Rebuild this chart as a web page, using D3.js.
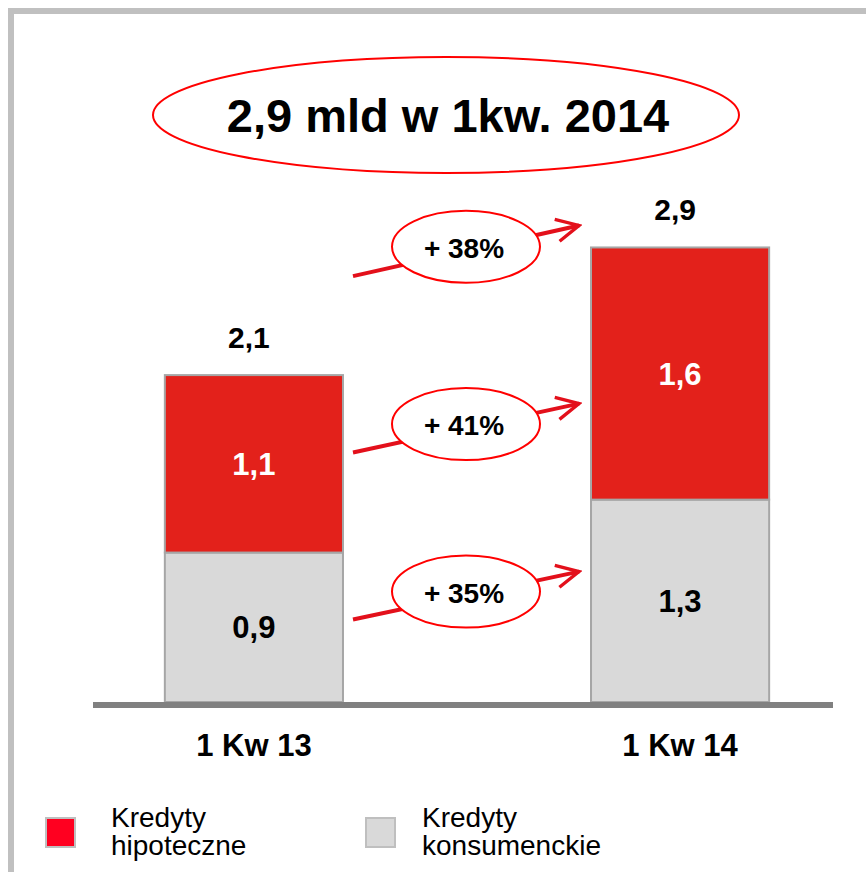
<!DOCTYPE html>
<html>
<head>
<meta charset="utf-8">
<script src="https://cdn.jsdelivr.net/npm/d3@7"></script>
<style>
  body { margin: 0; background: #fff; }
  svg { display: block; font-family: "Liberation Sans", Arial, sans-serif; }
</style>
</head>
<body>
<script>

// data
var categories = ["1 Kw 13", "1 Kw 14"];
var konsumenckie = [0.96, 1.30];
var hipoteczne = [1.14, 1.62];
var konsumLabels = ["0,9", "1,3"];
var hipoLabels = ["1,1", "1,6"];
var totalLabels = ["2,1", "2,9"];
var growth = ["+ 35%", "+ 41%", "+ 38%"];
var seriesNames = [["Kredyty", "hipoteczne"], ["Kredyty", "konsumenckie"]];
var title = "2,9 mld w 1kw. 2014";

var width = 866, height = 872,
    barRed = "#e3211b",
    barGray = "#d9d9d9",
    arrowRed = "#e3101b";

var svg = d3.select("body").append("svg")
  .attr("width", width)
  .attr("height", height);

// frame
svg.append("rect")
  .attr("x", 11).attr("y", 11)
  .attr("width", 900).attr("height", 900)
  .style("fill", "none")
  .style("stroke", "#c0c0c0")
  .style("stroke-width", 6);

// title in ellipse
svg.append("ellipse")
  .attr("cx", 446).attr("cy", 115)
  .attr("rx", 293).attr("ry", 58)
  .style("fill", "none")
  .style("stroke", "#ff0000")
  .style("stroke-width", 2);

svg.append("text")
  .attr("x", 448).attr("y", 132)
  .attr("text-anchor", "middle")
  .style("font-size", "47px")
  .style("font-weight", "bold")
  .text(title);

// scales
var x = d3.scaleBand()
  .domain(categories)
  .range([37, 897])
  .paddingInner(0.582)
  .paddingOuter(0.3);

var y = d3.scaleLinear()
  .domain([0, 3])
  .range([702, 235]);

var stacks = categories.map(function (c, i) {
  return {
    cat: c,
    k: konsumenckie[i],
    h: hipoteczne[i],
    kl: konsumLabels[i],
    hl: hipoLabels[i],
    tl: totalLabels[i]
  };
});

var g = svg.selectAll(".bar")
  .data(stacks)
  .enter()
  .append("g")
  .attr("class", "bar");

g.append("rect")
  .attr("x", function (d) { return x(d.cat); })
  .attr("y", function (d) { return y(d.k); })
  .attr("width", x.bandwidth())
  .attr("height", function (d) { return y(0) - y(d.k); })
  .style("fill", barGray)
  .style("stroke", "#a6a6a6")
  .style("stroke-width", 2);

g.append("rect")
  .attr("x", function (d) { return x(d.cat); })
  .attr("y", function (d) { return y(d.k + d.h); })
  .attr("width", x.bandwidth())
  .attr("height", function (d) { return y(d.k) - y(d.k + d.h); })
  .style("fill", barRed)
  .style("stroke", "#a6a6a6")
  .style("stroke-width", 2);

g.append("text")
  .attr("x", function (d) { return x(d.cat) + x.bandwidth() / 2; })
  .attr("y", function (d) { return (y(0) + y(d.k)) / 2 + 11; })
  .attr("text-anchor", "middle")
  .style("font-size", "31px")
  .style("font-weight", "bold")
  .style("fill", "#000")
  .text(function (d) { return d.kl; });

g.append("text")
  .attr("x", function (d) { return x(d.cat) + x.bandwidth() / 2; })
  .attr("y", function (d) { return (y(d.k) + y(d.k + d.h)) / 2 + 11; })
  .attr("text-anchor", "middle")
  .style("font-size", "31px")
  .style("font-weight", "bold")
  .style("fill", "#fff")
  .text(function (d) { return d.hl; });

g.append("text")
  .attr("x", function (d) { return x(d.cat) + x.bandwidth() / 2 - 5; })
  .attr("y", function (d) { return y(d.k + d.h) - 27; })
  .attr("text-anchor", "middle")
  .style("font-size", "30px")
  .style("font-weight", "bold")
  .text(function (d) { return d.tl; });

// axis line
svg.append("line")
  .attr("x1", 93).attr("x2", 833)
  .attr("y1", 705).attr("y2", 705)
  .style("stroke", "#808080")
  .style("stroke-width", 6);

svg.selectAll(".cat")
  .data(categories)
  .enter()
  .append("text")
  .attr("class", "cat")
  .attr("x", function (d) { return x(d) + x.bandwidth() / 2; })
  .attr("y", 756)
  .attr("text-anchor", "middle")
  .style("font-size", "31px")
  .style("font-weight", "bold")
  .text(function (d) { return d; });

// growth arrows (one per segment level)
var x0 = x(categories[0]) + x.bandwidth(),
    x1 = x(categories[1]);
var levels = [
  { from: y(konsumenckie[0]) + 67, to: y(konsumenckie[1]) + 72 },
  { from: y(konsumenckie[0]) - 100, to: y(konsumenckie[1]) - 96 },
  { from: y(konsumenckie[0] + hipoteczne[0]) - 99, to: y(konsumenckie[1] + hipoteczne[1]) - 22 }
];

var defs = svg.append("defs");
defs.append("marker")
  .attr("id", "head")
  .attr("viewBox", "0 0 10 10")
  .attr("refX", 9).attr("refY", 5)
  .attr("markerWidth", 7).attr("markerHeight", 7)
  .attr("markerUnits", "strokeWidth")
  .attr("orient", "auto")
  .append("path")
  .attr("d", "M1,1 L9,5 L1,9")
  .style("fill", "none")
  .style("stroke", arrowRed)
  .style("stroke-width", 1.2);

var arr = svg.selectAll(".growth")
  .data(growth)
  .enter()
  .append("g")
  .attr("class", "growth");

arr.append("line")
  .attr("x1", x0 + 10)
  .attr("y1", function (d, i) { return levels[i].from; })
  .attr("x2", x1 - 12)
  .attr("y2", function (d, i) { return levels[i].to; })
  .style("stroke", arrowRed)
  .style("stroke-width", 4)
  .attr("marker-end", "url(#head)");

arr.append("ellipse")
  .attr("cx", 466)
  .attr("cy", function (d, i) { return (levels[i].from + levels[i].to) / 2 - 4; })
  .attr("rx", 74)
  .attr("ry", 36)
  .style("fill", "#fff")
  .style("stroke", "#ff0000")
  .style("stroke-width", 2);

arr.append("text")
  .attr("x", 464)
  .attr("y", function (d, i) { return (levels[i].from + levels[i].to) / 2 + 7; })
  .attr("text-anchor", "middle")
  .style("font-size", "28px")
  .style("font-weight", "bold")
  .text(function (d) { return d; });

// legend
var legendColors = ["#ff0020", barGray];
var lg = svg.selectAll(".legend")
  .data(seriesNames)
  .enter()
  .append("g")
  .attr("class", "legend")
  .attr("transform", function (d, i) { return "translate(" + (46 + i * 320) + ",818)"; });

lg.append("rect")
  .attr("width", 29).attr("height", 29)
  .style("fill", function (d, i) { return legendColors[i]; })
  .style("stroke", "#bfbfbf")
  .style("stroke-width", 2);

lg.append("text")
  .attr("x", function (d, i) { return i ? 56 : 65; })
  .attr("y", 9)
  .style("font-size", "28px")
  .selectAll("tspan")
  .data(function (d) { return d; })
  .enter()
  .append("tspan")
  .attr("x", function (d, i, n) { return d3.select(n[i].parentNode).attr("x"); })
  .attr("dy", function (d, i) { return i ? 28 : 0; })
  .text(function (d) { return d; });

</script>
</body>
</html>
